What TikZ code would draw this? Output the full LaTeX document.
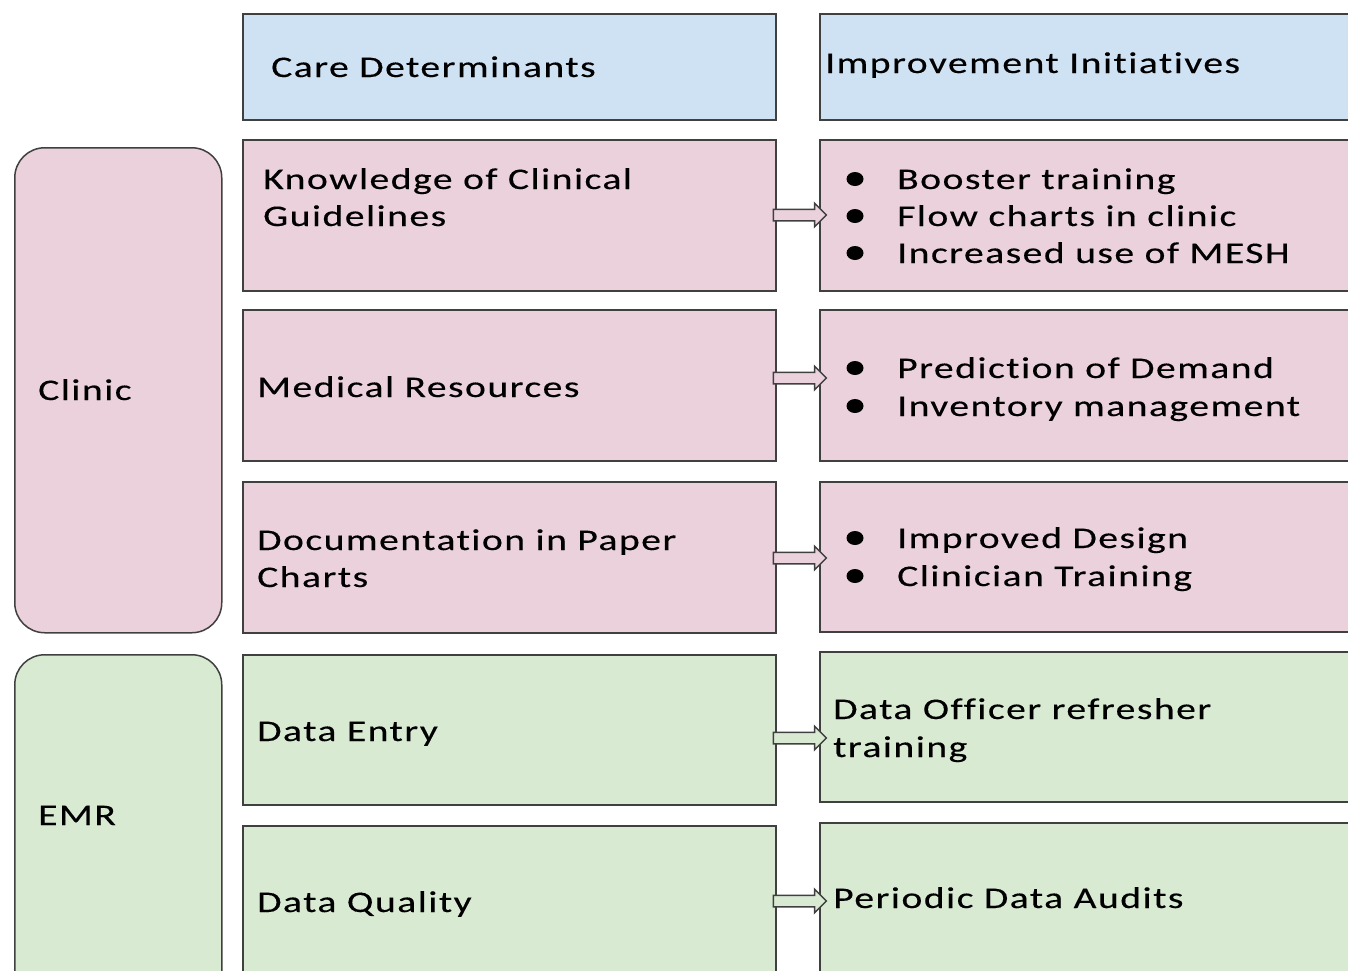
\documentclass[tikz,border=0pt]{standalone}
\usepackage{fontspec}
\setmainfont{Carlito}[FakeStretch=1.32, LetterSpace=5, Ligatures=NoCommon, FakeBold=0.3]
\usetikzlibrary{shapes.arrows,shapes.geometric}
\definecolor{hdrblue}{HTML}{CFE2F3}
\definecolor{rowpink}{HTML}{EAD1DC}
\definecolor{rowgreen}{HTML}{D9EAD3}
\definecolor{edge}{HTML}{404040}
\tikzset{
  box/.style={draw=edge, line width=1.5pt, rectangle, anchor=north west, inner sep=0pt},
  group/.style={draw=edge, line width=1.5pt, rectangle, rounded corners=30pt, anchor=north west, inner sep=0pt},
  txt/.style={anchor=base west, inner sep=0pt, font=\fontsize{30}{36}\selectfont},
  dot/.style={ellipse, fill=black, inner sep=0pt, minimum width=17pt, minimum height=14pt},
  blockarrow/.style={single arrow, draw=edge, line width=1.5pt, minimum height=53pt, minimum width=22pt, single arrow head extend=6pt, single arrow head indent=0pt, inner sep=5pt}
}
\begin{document}
\begin{tikzpicture}[x=1pt,y=-1pt]
\useasboundingbox (0,0) rectangle (1348,970);
\clip (0,0) rectangle (1348,970);
% headers
\node[box, fill=hdrblue, minimum width=533pt, minimum height=106pt] (cd) at (242,13) {};
\node[box, fill=hdrblue, minimum width=560pt, minimum height=106pt] (ii) at (819,13) {};
% groups
\node[group, fill=rowpink, minimum width=207pt, minimum height=485pt] (clinic) at (14,147) {};
\node[group, fill=rowgreen, minimum width=207pt, minimum height=360pt] (emr) at (14,654) {};
% left boxes
\node[box, fill=rowpink, minimum width=533pt, minimum height=151pt] (l1) at (242,139) {};
\node[box, fill=rowpink, minimum width=533pt, minimum height=151pt] (l2) at (242,309) {};
\node[box, fill=rowpink, minimum width=533pt, minimum height=151pt] (l3) at (242,481) {};
\node[box, fill=rowgreen, minimum width=533pt, minimum height=150pt] (l4) at (242,654) {};
\node[box, fill=rowgreen, minimum width=533pt, minimum height=200pt] (l5) at (242,825) {};
% right boxes
\node[box, fill=rowpink, minimum width=560pt, minimum height=151pt] (r1) at (819,139) {};
\node[box, fill=rowpink, minimum width=560pt, minimum height=151pt] (r2) at (819,309) {};
\node[box, fill=rowpink, minimum width=560pt, minimum height=150pt] (r3) at (819,481) {};
\node[box, fill=rowgreen, minimum width=560pt, minimum height=150pt] (r4) at (819,651) {};
\node[box, fill=rowgreen, minimum width=560pt, minimum height=200pt] (r5) at (819,822) {};
% arrows
\node[blockarrow, fill=rowpink] (a1) at (797,215) {};
\node[blockarrow, fill=rowpink] (a2) at (797,378) {};
\node[blockarrow, fill=rowpink] (a3) at (797,558) {};
\node[blockarrow, fill=rowgreen] (a4) at (797,738) {};
\node[blockarrow, fill=rowgreen] (a5) at (797,901) {};
% texts
\node[txt] (tcd) at (271,77) {Care Determinants};
\node[txt] (tii) at (825,73) {Improvement Initiatives};
\node[txt] (tclinic) at (38,400) {Clinic};
\node[txt] (temr) at (38,825) {EMR};
\node[txt] (t1a) at (263,189) {Knowledge of Clinical};
\node[txt] (t1b) at (263,226) {Guidelines};
\node[txt] (t2) at (257,397) {Medical Resources};
\node[txt] (t3a) at (257,550) {Documentation in Paper};
\node[txt] (t3b) at (257,587) {Charts};
\node[txt] (t4) at (257,741) {Data Entry};
\node[txt] (t5) at (257,912) {Data Quality};
% bullets
\node[dot] (d1) at (855,179) {};
\node[txt] (b1) at (897,189) {Booster training};
\node[dot] (d2) at (855,216) {};
\node[txt] (b2) at (897,226) {Flow charts in clinic};
\node[dot] (d3) at (855,253) {};
\node[txt] (b3) at (897,263) {Increased use of MESH};
\node[dot] (d4) at (855,368) {};
\node[txt] (b4) at (897,378) {Prediction of Demand};
\node[dot] (d5) at (855,406) {};
\node[txt] (b5) at (897,416) {Inventory management};
\node[dot] (d6) at (855,538) {};
\node[txt] (b6) at (897,548) {Improved Design};
\node[dot] (d7) at (855,576) {};
\node[txt] (b7) at (897,586) {Clinician Training};
\node[txt] (t4a) at (833,719) {Data Officer refresher};
\node[txt] (t4b) at (833,757) {training};
\node[txt] (t5r) at (833,908) {Periodic Data Audits};
\end{tikzpicture}
\end{document}
